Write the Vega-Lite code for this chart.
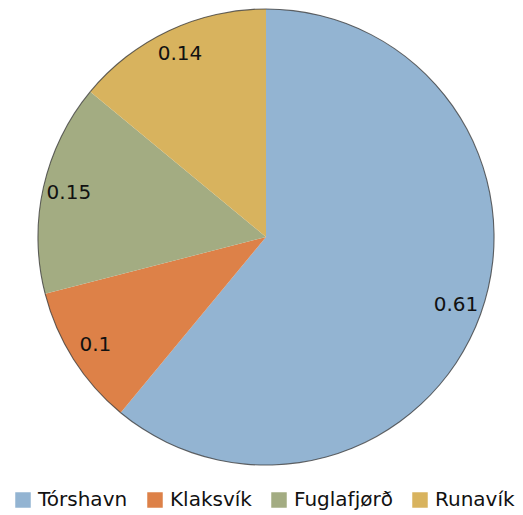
{
  "$schema": "https://vega.github.io/schema/vega-lite/v6.json",
  "width": 456,
  "height": 456,
  "autosize": "none",
  "padding": {"left": 38, "top": 9, "right": 29, "bottom": 50},
  "background": "white",
  "data": {
    "values": [
      {"city": "Tórshavn", "value": 0.61, "order": 1},
      {"city": "Klaksvík", "value": 0.1, "order": 2},
      {"city": "Fuglafjørð", "value": 0.15, "order": 3},
      {"city": "Runavík", "value": 0.14, "order": 4}
    ]
  },
  "encoding": {
    "theta": {"field": "value", "type": "quantitative", "stack": true},
    "order": {"field": "order", "type": "quantitative"}
  },
  "layer": [
    {
      "mark": {"type": "arc", "outerRadius": 228, "stroke": null},
      "encoding": {
        "color": {
          "field": "city",
          "type": "nominal",
          "scale": {
            "domain": ["Tórshavn", "Klaksvík", "Fuglafjørð", "Runavík"],
            "range": ["#93B4D2", "#DD8148", "#A3AC82", "#D8B35E"]
          },
          "legend": {
            "title": null,
            "orient": "none",
            "direction": "horizontal",
            "columns": 4,
            "legendX": -25,
            "legendY": 481,
            "padding": 0,
            "symbolType": "square",
            "symbolSize": 240,
            "symbolStrokeWidth": 0,
            "symbolOpacity": 1,
            "labelFont": "DejaVu Sans",
            "labelFontSize": 20,
            "labelColor": "#111111",
            "labelOffset": 5,
            "columnPadding": 17,
            "labelLimit": 0
          }
        }
      }
    },
    {
      "mark": {"type": "arc", "innerRadius": 227.5, "outerRadius": 228.6, "fill": "#333333", "opacity": 0.75, "stroke": null},
      "encoding": {}
    },
    {
      "mark": {"type": "text", "radius": 202, "font": "DejaVu Sans", "fontSize": 20, "color": "#111111", "align": "center", "baseline": "middle"},
      "encoding": {
        "text": {"field": "value", "type": "nominal"}
      }
    }
  ]
}
